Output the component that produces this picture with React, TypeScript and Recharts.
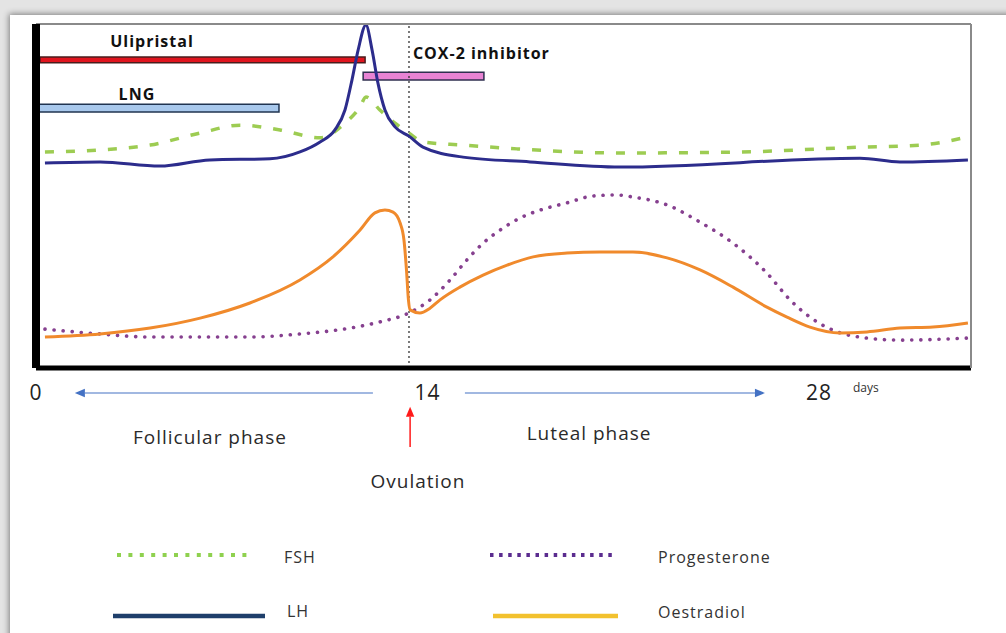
import { LineChart, Line, XAxis, YAxis, ReferenceLine, ReferenceArea, ReferenceDot, Legend } from "recharts";

// day of cycle / relative hormone level (0-100)
const fshDays = [0.32, 2.29, 4.08, 5.87, 7.3, 8.73, 10.16, 11.05, 11.59, 11.8, 12.3, 12.84, 13.34, 13.84, 15.27, 17.2, 20.89, 25.18, 29.47, 31.62, 33.33];
const fshLevel = [62.8, 63.4, 64.8, 68.3, 70.6, 69.2, 66.9, 71.2, 75.9, 78.8, 75.0, 71.2, 68.3, 65.7, 64.8, 63.7, 62.5, 62.8, 64.2, 64.8, 67.2];

const lhDays = [0.32, 2.29, 4.43, 6.22, 8.37, 9.44, 10.16, 10.69, 11.05, 11.3, 11.52, 11.8, 12.02, 12.23, 12.48, 12.84, 13.34, 13.84, 15.27, 17.67, 20.89, 29.47, 30.9, 33.33];
const lhLevel = [59.6, 59.9, 58.7, 60.5, 60.8, 62.8, 65.7, 69.2, 75.0, 83.7, 92.4, 99.7, 92.4, 82.8, 75.0, 70.1, 67.4, 64.2, 61.3, 59.9, 58.4, 61.0, 59.9, 60.5];

const oestDays = [0.32, 2.29, 4.08, 5.87, 7.65, 9.44, 10.62, 11.59, 12.12, 12.48, 12.77, 13.02, 13.16, 13.25, 13.32, 13.38, 13.73, 14.09, 14.45, 15.16, 15.99, 16.85, 17.78, 18.99, 20.17, 21.35, 22.57, 23.75, 24.93, 26.14, 26.86, 27.68, 28.76, 29.72, 30.9, 32.08, 33.33];
const oestLevel = [9.0, 9.9, 11.6, 14.5, 18.9, 25.6, 32.3, 40.1, 45.1, 45.9, 45.3, 42.2, 37.2, 28.5, 19.8, 16.9, 16.0, 17.4, 19.8, 23.5, 27.0, 29.9, 32.3, 33.4, 33.7, 33.7, 32.0, 28.5, 23.5, 17.7, 14.8, 11.9, 10.2, 10.5, 11.6, 11.9, 13.1];

const progDays = [0.32, 2.29, 4.08, 5.87, 7.65, 9.44, 11.23, 12.3, 13.34, 14.09, 14.81, 15.41, 15.99, 16.6, 17.31, 18.03, 18.99, 19.92, 20.78, 21.35, 22.57, 23.75, 24.93, 26.14, 26.97, 27.68, 28.5, 29.72, 30.9, 33.33];
const progLevel = [11.3, 9.9, 9.0, 9.0, 9.0, 9.9, 11.6, 13.4, 16.0, 19.8, 25.6, 31.4, 36.3, 40.1, 43.6, 45.9, 48.0, 50.0, 50.3, 49.7, 47.4, 42.4, 36.3, 27.6, 19.8, 14.8, 11.0, 8.7, 8.1, 8.7];

const dayTicks = [0, 14, 28];
const ovulationDay = 13.34;

// drug windows: [startDay, endDay, lowLevel, highLevel]
const ulipristalWindow = [0.14, 11.77, 88.7, 90.4];
const lngWindow = [0, 8.69, 74.4, 76.7];
const coxWindow = [11.7, 16.02, 83.7, 86.0];

const toRows = (days: number[], levels: number[]) => days.map((d, i) => ({ day: d, level: levels[i] }));

const FONT = "'Open Sans', sans-serif";

const legendStyle: Record<string, any> = {
  FSH: { color: "#8fd14f", width: 4, dash: "4 7.4", x1: 117, x2: 248, y: 25, tx: 284, ty: 27 },
  Progesterone: { color: "#5b2c8f", width: 4, dash: "3.5 5.6", x1: 490, x2: 617, y: 25, tx: 658, ty: 27 },
  LH: { color: "#1f3f6b", width: 4.5, dash: undefined, x1: 113, x2: 265, y: 86, tx: 287, ty: 81 },
  Oestradiol: { color: "#f2c12e", width: 4.5, dash: undefined, x1: 493, x2: 618, y: 86, tx: 658, ty: 82 },
};

const LegendContent = (props: any) => {
  const { payload = [] } = props;
  return (
    <svg width={1006} height={103}>
      {payload.map((entry: any) => {
        const s = legendStyle[entry.value];
        if (!s) return null;
        return (
          <g key={entry.value}>
            <line x1={s.x1} x2={s.x2} y1={s.y} y2={s.y} stroke={s.color} strokeWidth={s.width} strokeDasharray={s.dash} />
            <text x={s.tx} y={s.ty} dominantBaseline="central" fontFamily={FONT} fontSize={16} letterSpacing={1} fill="#333">
              {entry.value}
            </text>
          </g>
        );
      })}
    </svg>
  );
};

const DayTick = (props: any) => {
  const { x, y, payload } = props;
  return (
    <g>
      <text x={x} y={y + 24} textAnchor="middle" dominantBaseline="central" fontFamily={FONT} fontSize={21} letterSpacing={1} fill="#222">
        {payload.value}
      </text>
      {payload.value === 28 && (
        <text x={x + 34} y={y + 19} dominantBaseline="central" fontFamily={FONT} fontSize={12} fill="#333">
          days
        </text>
      )}
    </g>
  );
};

const textMark = (text: string, opts: any = {}) => (p: any) => (
  <text
    x={p.cx}
    y={p.cy}
    textAnchor={opts.anchor || "middle"}
    dominantBaseline="central"
    fontFamily={FONT}
    fontSize={opts.size || 19}
    fontWeight={opts.weight || 400}
    letterSpacing={1}
    fill={opts.color || "#2a2a2a"}
  >
    {text}
  </text>
);

const arrowShape = (color: string, width: number, head: number) => (p: any) => {
  const { x1, y1, x2, y2 } = p;
  const ang = Math.atan2(y2 - y1, x2 - x1);
  const hx = x2 - head * Math.cos(ang);
  const hy = y2 - head * Math.sin(ang);
  const px = -Math.sin(ang) * head * 0.42;
  const py = Math.cos(ang) * head * 0.42;
  return (
    <g>
      <line x1={x1} y1={y1} x2={hx} y2={hy} stroke={color} strokeWidth={width} />
      <polygon points={`${x2},${y2} ${hx + px},${hy + py} ${hx - px},${hy - py}`} fill={color} />
    </g>
  );
};

export default function App() {
  return (
    <div style={{ position: "absolute", left: 0, top: 0, width: 1006, height: 633, overflow: "hidden", background: "#e4e4e4" }}>
      <div
        style={{
          position: "absolute",
          left: 10,
          top: 15,
          width: 1020,
          height: 640,
          background: "#fff",
          boxShadow: "0 0 6px 1px rgba(0,0,0,0.45)",
        }}
      />
      <div style={{ position: "absolute", left: 0, top: 0 }}>
        <LineChart width={1006} height={633} margin={{ top: 23, right: 34, bottom: 264, left: 35 }}>
          <XAxis
            dataKey="day"
            type="number"
            domain={[0, 33.44]}
            ticks={dayTicks}
            allowDataOverflow
            axisLine={{ stroke: "#000", strokeWidth: 5 }}
            tickLine={false}
            tickSize={0}
            tickMargin={0}
            height={1}
            tick={<DayTick />}
          />
          <XAxis xAxisId="top" orientation="top" type="number" domain={[0, 33.44]} height={1} tick={false} tickLine={false} axisLine={{ stroke: "#8a8a8a", strokeWidth: 2 }} />
          <YAxis type="number" domain={[0, 100]} width={1} tick={false} tickLine={false} axisLine={{ stroke: "#000", strokeWidth: 8 }} />
          <YAxis yAxisId="right" orientation="right" type="number" domain={[0, 100]} width={1} tick={false} tickLine={false} axisLine={{ stroke: "#8a8a8a", strokeWidth: 2 }} />

          <ReferenceArea x1={ulipristalWindow[0]} x2={ulipristalWindow[1]} y1={ulipristalWindow[2]} y2={ulipristalWindow[3]} fill="#e0141e" fillOpacity={1} stroke="#4a1c1c" strokeWidth={1.5} ifOverflow="visible" />
          <ReferenceArea x1={lngWindow[0]} x2={lngWindow[1]} y1={lngWindow[2]} y2={lngWindow[3]} fill="#a8c8ec" fillOpacity={1} stroke="#203450" strokeWidth={1.5} ifOverflow="visible" />
          <ReferenceArea x1={coxWindow[0]} x2={coxWindow[1]} y1={coxWindow[2]} y2={coxWindow[3]} fill="#e883d3" fillOpacity={1} stroke="#2f2f4f" strokeWidth={1.5} ifOverflow="visible" />

          <ReferenceDot x={4.15} y={95.1} ifOverflow="visible" shape={textMark("Ulipristal", { size: 16, weight: 700, color: "#111" })} />
          <ReferenceDot x={3.61} y={79.7} ifOverflow="visible" shape={textMark("LNG", { size: 16, weight: 700, color: "#111" })} />
          <ReferenceDot x={13.48} y={91.6} ifOverflow="visible" shape={textMark("COX-2 inhibitor", { size: 16, weight: 700, color: "#111", anchor: "start" })} />

          <ReferenceLine x={ovulationDay} stroke="#333" strokeWidth={1.3} strokeDasharray="2 3" />

          <ReferenceLine segment={[{ x: 12.05, y: -7.27 }, { x: 1.39, y: -7.27 }]} ifOverflow="visible" shape={arrowShape("#4472c4", 1.2, 10)} />
          <ReferenceLine segment={[{ x: 15.34, y: -7.27 }, { x: 26.07, y: -7.27 }]} ifOverflow="visible" shape={arrowShape("#4472c4", 1.2, 10)} />
          <ReferenceLine segment={[{ x: 13.38, y: -23.0 }, { x: 13.38, y: -11.3 }]} ifOverflow="visible" shape={arrowShape("#ff1a1a", 1.5, 10)} />

          <ReferenceDot x={6.22} y={-20.1} ifOverflow="visible" shape={textMark("Follicular phase")} />
          <ReferenceDot x={19.78} y={-18.9} ifOverflow="visible" shape={textMark("Luteal phase")} />
          <ReferenceDot x={13.66} y={-32.8} ifOverflow="visible" shape={textMark("Ovulation")} />

          <Line data={toRows(fshDays, fshLevel)} dataKey="level" name="FSH" type="monotone" stroke="#9dcc52" strokeWidth={3.5} strokeDasharray="9 12" dot={false} activeDot={false} isAnimationActive={false} />
          <Line data={toRows(progDays, progLevel)} dataKey="level" name="Progesterone" type="monotone" stroke="#86408f" strokeWidth={3.6} strokeDasharray="0.1 9" strokeLinecap="round" dot={false} activeDot={false} isAnimationActive={false} />
          <Line data={toRows(lhDays, lhLevel)} dataKey="level" name="LH" type="monotone" stroke="#2c2c8c" strokeWidth={3} dot={false} activeDot={false} isAnimationActive={false} />
          <Line data={toRows(oestDays, oestLevel)} dataKey="level" name="Oestradiol" type="monotone" stroke="#f08a2c" strokeWidth={3} dot={false} activeDot={false} isAnimationActive={false} />

          <Legend
            layout="horizontal"
            verticalAlign="middle"
            align="center"
            content={<LegendContent />}
            wrapperStyle={{ position: "absolute", left: 0, top: 530, width: 1006, height: 103 }}
          />
        </LineChart>
      </div>
    </div>
  );
}
